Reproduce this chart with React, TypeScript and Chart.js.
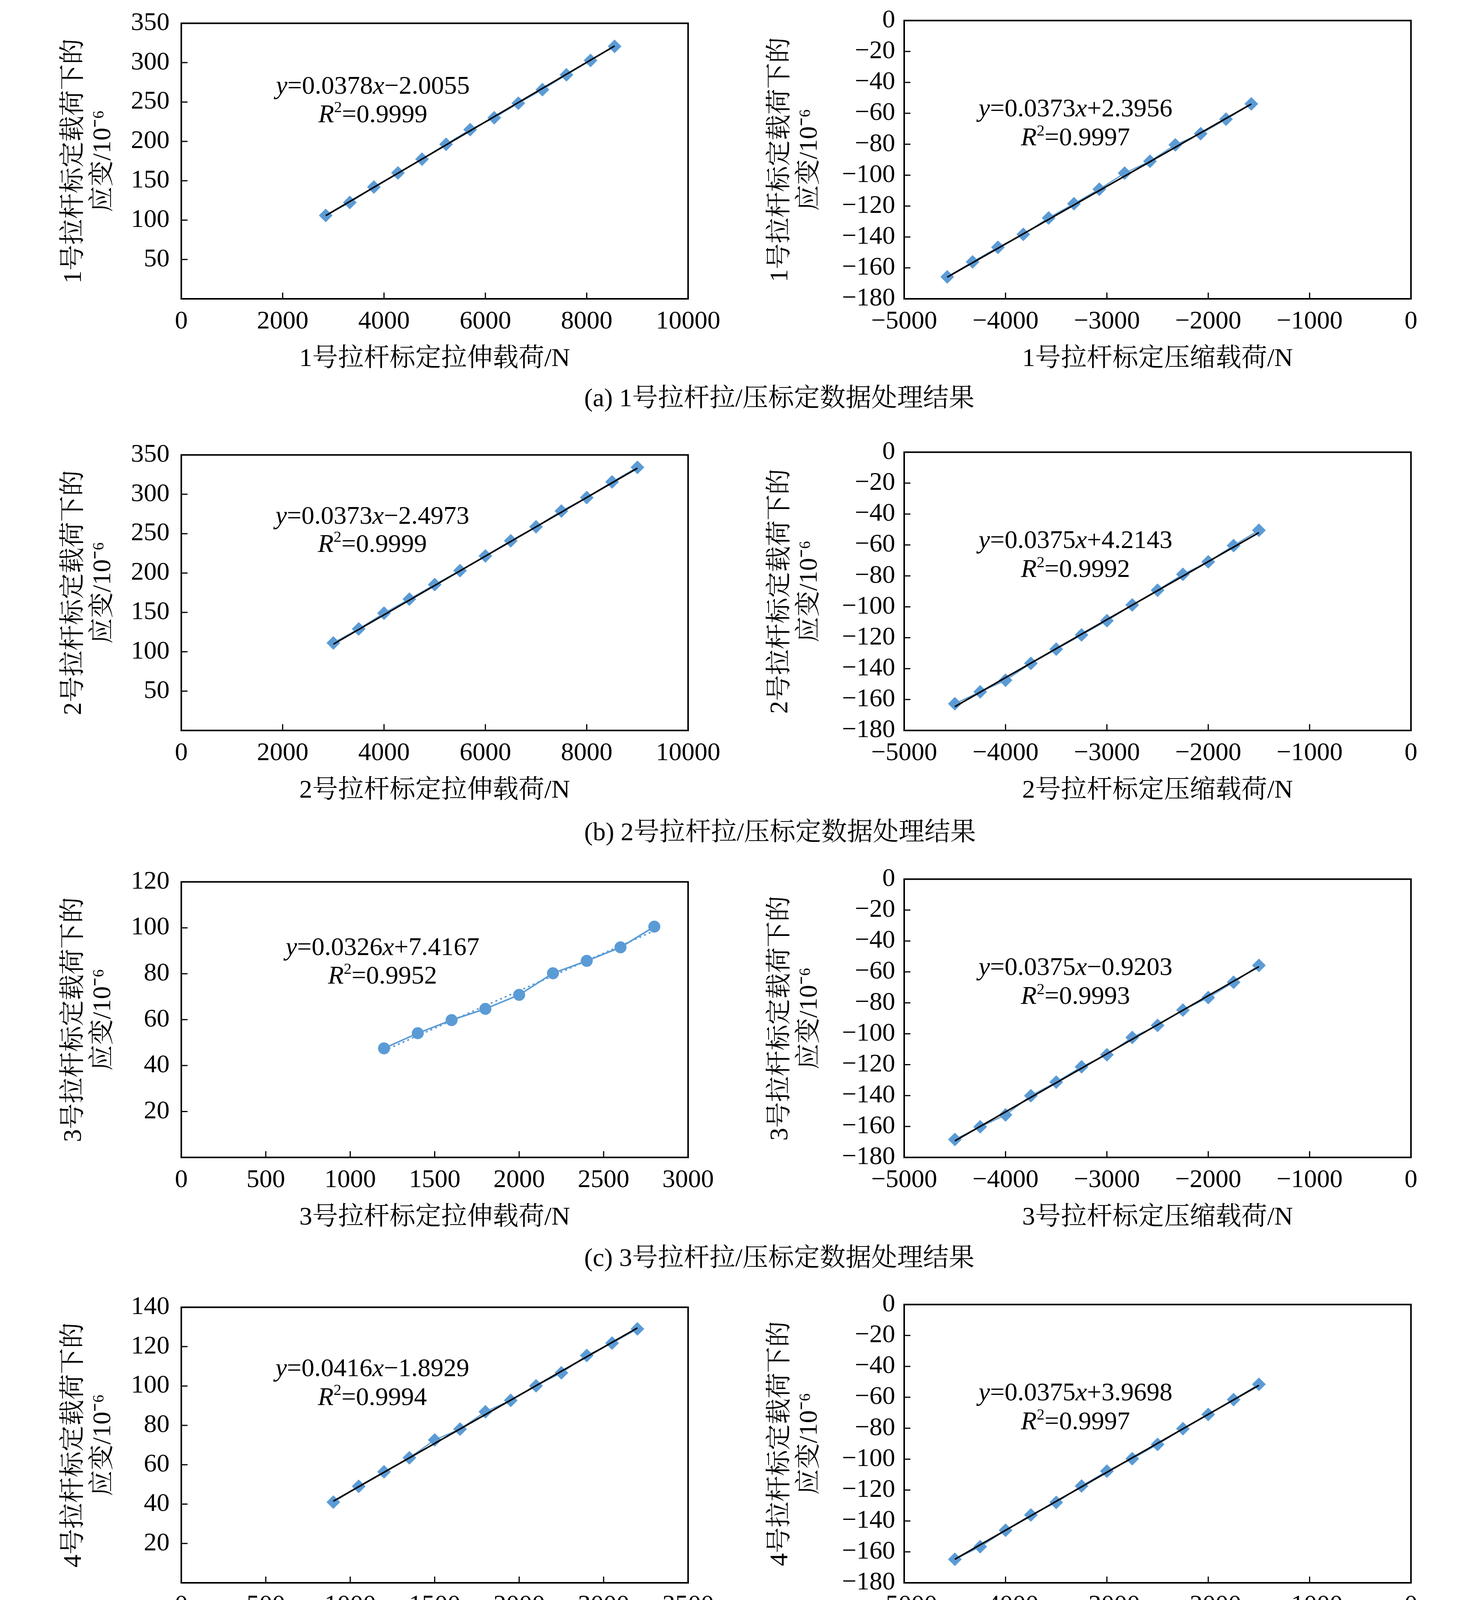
import { useEffect, useRef } from 'react'
import { Chart, registerables } from 'chart.js'

Chart.register(...registerables)

const SERIF = "'Liberation Serif', 'Times New Roman', 'Noto Serif CJK SC', 'Noto Sans CJK SC', serif"
const BLUE = '#5B9BD5'
const FONT = 66

// ---- tension (拉伸) data ----
const load1T = [2850, 3325, 3800, 4275, 4750, 5225, 5700, 6175, 6650, 7125, 7600, 8075, 8550]
const strain1T = [105.9, 122.4, 142, 159.9, 177.4, 196.3, 214.9, 230, 248.5, 265.7, 284.6, 302.8, 320.7]
const load2T = [3000, 3500, 4000, 4500, 5000, 5500, 6000, 6500, 7000, 7500, 8000, 8500, 9000]
const strain2T = [111.2, 129, 149, 166.8, 185.3, 203, 221.7, 240.9, 258.7, 278.7, 295.8, 315.7, 334.2]
const load3T = [1200, 1400, 1600, 1800, 2000, 2200, 2400, 2600, 2800]
const strain3T = [47.5, 54.1, 59.8, 64.7, 70.8, 80.2, 85.6, 91.5, 100.5]
const load4T = [900, 1050, 1200, 1350, 1500, 1650, 1800, 1950, 2100, 2250, 2400, 2550, 2700]
const strain4T = [41, 49, 56.4, 63.5, 72.6, 78.1, 86.9, 92.7, 100.1, 106.7, 115.5, 121.8, 129]
const load5T = [1050, 1200, 1350, 1500, 1650, 1800, 1950, 2100, 2250, 2400, 2550, 2700]
const strain5T = [37.8, 44.4, 52.9, 57.5, 67.1, 74.8, 81.1, 86.6, 94.8, 102.2, 111.8, 115.1]
const load6T = [1260, 1470, 1680, 1890, 2100, 2310, 2520, 2730, 2940, 3150, 3360, 3570, 3780]
const strain6T = [47.8, 56.3, 64.1, 73.6, 81.4, 89, 98.7, 104.1, 114.1, 121.7, 129.5, 138.6, 148.1]
const load7T = [900, 1050, 1200, 1350, 1500, 1650, 1800, 1950, 2100, 2250, 2400, 2550, 2700]
const strain7T = [37.95, 46.75, 53.6, 60, 67.9, 72.6, 79.5, 85.5, 93.5, 99.8, 107.5, 114.4, 120.2]

// ---- compression (压缩) data ----
const load1C = [-4575, -4325, -4075, -3825, -3575, -3325, -3075, -2825, -2575, -2325, -2075, -1825, -1575]
const strain1C = [-165.8, -156.1, -146.7, -138.3, -127.7, -118.5, -109.1, -98.7, -91, -80.4, -73.2, -63.8, -53.9]
const load2C = [-4500, -4250, -4000, -3750, -3500, -3250, -3000, -2750, -2500, -2250, -2000, -1750, -1500]
const strain2C = [-162.7, -155, -147.5, -136.6, -127.4, -118.2, -109, -98.8, -89.3, -79, -70.9, -60.4, -50.5]
const load3C = [-4500, -4250, -4000, -3750, -3500, -3250, -3000, -2750, -2500, -2250, -2000, -1750, -1500]
const strain3C = [-168.4, -160.2, -152.5, -140.1, -131.3, -121.4, -113.6, -102.4, -94.6, -84.7, -76.6, -66.7, -55.8]
const load4C = [-4500, -4250, -4000, -3750, -3500, -3250, -3000, -2750, -2500, -2250, -2000, -1750, -1500]
const strain4C = [-164.8, -156.6, -146, -136.1, -128, -117.4, -107.8, -99.7, -90.5, -80.3, -71.1, -61.5, -51.6]
const load5C = [-4050, -3825, -3600, -3375, -3150, -2925, -2700, -2475, -2250, -2025, -1800, -1575, -1350]
const strain5C = [-184.3, -176.9, -164.4, -156.2, -145.6, -134.6, -120.2, -111.2, -102.5, -96.3, -85.3, -72, -62.2]
const load6C = [-4050, -3825, -3600, -3375, -3150, -2925, -2700, -2475, -2250, -2025, -1800, -1575, -1350]
const strain6C = [-150.6, -141.8, -135.8, -125.4, -115.7, -107.8, -101.2, -91.5, -83.3, -73.9, -65.4, -57.2, -50.6]
const load7C = [-4680, -4420, -4160, -3900, -3640, -3380, -3120, -2860, -2600, -2340, -2080, -1820, -1560]
const strain7C = [-165.1, -154.9, -146, -136.5, -125.9, -117.7, -110, -98.3, -89.1, -81, -72.1, -62.2, -53.7]

// ---- trend line end points [x0, y0, x1, y1] ----
const trendT = [
  [2850, 105.7, 8550, 321.2],
  [3000, 109.6, 9000, 333.2],
  [1200, 46.5, 2800, 98.7],
  [900, 41.5, 2700, 129.5],
  [1050, 37.5, 2700, 116.4],
  [1260, 48, 3780, 146.7],
  [900, 38.8, 2700, 120.2],
]
const trendC = [
  [-4575, -166, -1575, -54],
  [-4500, -164.6, -1500, -52],
  [-4500, -169.3, -1500, -56.6],
  [-4500, -164.8, -1500, -52.3],
  [-4050, -185.4, -1350, -63.1],
  [-4050, -150.7, -1350, -49.5],
  [-4680, -164.4, -1560, -53.3],
]

// ---- trend equations: slope, intercept, R² ----
const slopeT = ['0.0378', '0.0373', '0.0326', '0.0416', '0.0478', '0.0392', '0.0386']
const interceptT = ['−2.0055', '−2.4973', '+7.4167', '−1.8929', '−12.654', '−1.4341', '−1.4093']
const r2T = ['0.9999', '0.9999', '0.9952', '0.9994', '0.9981', '0.9994', '0.9991']
const slopeC = ['0.0373', '0.0375', '0.0375', '0.0375', '0.0453', '0.0375', '0.0356']
const interceptC = ['+2.3956', '+4.2143', '−0.9203', '+3.9698', '−1.9011', '+1.1346', '+2.1896']
const r2C = ['0.9997', '0.9992', '0.9993', '0.9997', '0.9977', '0.9994', '0.9995']

// ---- tick labels ----
const xLabels10000 = ['0', '2000', '4000', '6000', '8000', '10000']
const xLabels3000 = ['0', '500', '1000', '1500', '2000', '2500', '3000']
const xLabels3500 = ['0', '500', '1000', '1500', '2000', '3000', '3500'] // printed this way in (d) and (g)
const xLabels4000 = ['0', '1000', '2000', '3000', '4000']
const xLabelsComp = ['−5000', '−4000', '−3000', '−2000', '−1000', '0']
const yLabels350 = ['', '50', '100', '150', '200', '250', '300', '350']
const yLabels120 = ['', '20', '40', '60', '80', '100', '120']
const yLabels140 = ['', '20', '40', '60', '80', '100', '120', '140']
const yLabels160 = ['', '20', '40', '60', '80', '100', '120', '140', '160']
const yLabelsNeg160 = ['−160', '−140', '−120', '−100', '−80', '−60', '−40', '−20', '0']
const yLabelsNeg180 = ['−180', '−160', '−140', '−120', '−100', '−80', '−60', '−40', '−20', '0']
const yLabelsNeg200 = ['−200', '−180', '−160', '−140', '−120', '−100', '−80', '−60', '−40', '−20', '0']

const letters = ['a', 'b', 'c', 'd', 'e', 'f', 'g']

// layout (page pixels)
const plotTops = [50, 1155, 2248, 3337, 4437, 5527, 6628]
const captionMids = [1018, 2129, 3219, 4313, 5414, 6539, 7608]
const PLOT_H = 715
const PAD_TOP = 60
const X_AXIS_H = 194
const COL_W = 1890

interface Axis {
  min: number
  max: number
  step: number
  labels: string[]
}

interface Panel {
  xs: number[]
  ys: number[]
  trend: number[]
  x: Axis
  y: Axis
  xTitle: string
  yTitle: string[]
  slope: string
  intercept: string
  r2: string
  eqPos: [number, number, number] // centre x, line1 y, line2 y as fractions of the plot area
  circles?: boolean
}

const tensionX: Axis[] = [
  { min: 0, max: 10000, step: 2000, labels: xLabels10000 },
  { min: 0, max: 10000, step: 2000, labels: xLabels10000 },
  { min: 0, max: 3000, step: 500, labels: xLabels3000 },
  { min: 0, max: 3000, step: 500, labels: xLabels3500 },
  { min: 0, max: 3000, step: 500, labels: xLabels3000 },
  { min: 0, max: 4000, step: 1000, labels: xLabels4000 },
  { min: 0, max: 3000, step: 500, labels: xLabels3500 },
]
const tensionY: Axis[] = [
  { min: 0, max: 350, step: 50, labels: yLabels350 },
  { min: 0, max: 350, step: 50, labels: yLabels350 },
  { min: 0, max: 120, step: 20, labels: yLabels120 },
  { min: 0, max: 140, step: 20, labels: yLabels140 },
  { min: 0, max: 140, step: 20, labels: yLabels140 },
  { min: 0, max: 160, step: 20, labels: yLabels160 },
  { min: 0, max: 140, step: 20, labels: yLabels140 },
]
const compY: Axis[] = [
  { min: -180, max: 0, step: 20, labels: yLabelsNeg180 },
  { min: -180, max: 0, step: 20, labels: yLabelsNeg180 },
  { min: -180, max: 0, step: 20, labels: yLabelsNeg180 },
  { min: -180, max: 0, step: 20, labels: yLabelsNeg180 },
  { min: -200, max: 0, step: 20, labels: yLabelsNeg200 },
  { min: -160, max: 0, step: 20, labels: yLabelsNeg160 },
  { min: -180, max: 0, step: 20, labels: yLabelsNeg180 },
]
const compX: Axis = { min: -5000, max: 0, step: 1000, labels: xLabelsComp }

const eqPosT: [number, number, number][] = [
  [0.378, 0.231, 0.334],
  [0.377, 0.225, 0.327],
  [0.397, 0.241, 0.345],
  [0.377, 0.226, 0.33],
  [0.437, 0.292, 0.397],
  [0.397, 0.257, 0.361],
  [0.376, 0.226, 0.33],
]
const eqPosC: [number, number, number] = [0.338, 0.32, 0.424]

const tensionXs = [load1T, load2T, load3T, load4T, load5T, load6T, load7T]
const tensionYs = [strain1T, strain2T, strain3T, strain4T, strain5T, strain6T, strain7T]
const compXs = [load1C, load2C, load3C, load4C, load5C, load6C, load7C]
const compYs = [strain1C, strain2C, strain3C, strain4C, strain5C, strain6C, strain7C]

const yTitle = (n: number) => [`${n}号拉杆标定载荷下的`, '应变/10⁻⁶']

const leftPanels: Panel[] = letters.map((_, i) => ({
  xs: tensionXs[i],
  ys: tensionYs[i],
  trend: trendT[i],
  x: tensionX[i],
  y: tensionY[i],
  xTitle: `${i + 1}号拉杆标定拉伸载荷/N`,
  yTitle: yTitle(i + 1),
  slope: slopeT[i],
  intercept: interceptT[i],
  r2: r2T[i],
  eqPos: eqPosT[i],
  circles: i === 2,
}))

const rightPanels: Panel[] = letters.map((_, i) => ({
  xs: compXs[i],
  ys: compYs[i],
  trend: trendC[i],
  x: compX,
  y: compY[i],
  xTitle: `${i + 1}号拉杆标定压缩载荷/N`,
  yTitle: yTitle(i + 1),
  slope: slopeC[i],
  intercept: interceptC[i],
  r2: r2C[i],
  eqPos: eqPosC,
}))

interface Seg {
  t: string
  italic?: boolean
  sup?: boolean
}

function drawRich(ctx: CanvasRenderingContext2D, segs: Seg[], cx: number, cy: number) {
  const fontOf = (s: Seg) => `${s.italic ? 'italic ' : ''}${s.sup ? Math.round(FONT * 0.6) : FONT}px ${SERIF}`
  const widths = segs.map(s => {
    ctx.font = fontOf(s)
    return ctx.measureText(s.t).width
  })
  let x = cx - widths.reduce((a, b) => a + b, 0) / 2
  segs.forEach((s, i) => {
    ctx.font = fontOf(s)
    ctx.fillText(s.t, x, s.sup ? cy - FONT * 0.28 : cy)
    x += widths[i]
  })
}

// frame, inward tick marks and the trend equation
function makeOverlay(p: Panel) {
  return {
    id: 'overlay',
    afterDraw(chart: Chart) {
      const { ctx, chartArea: a } = chart
      const xs = chart.scales.x
      const ys = chart.scales.y
      ctx.save()
      ctx.strokeStyle = '#000'
      ctx.lineWidth = 4
      ctx.strokeRect(a.left, a.top, a.right - a.left, a.bottom - a.top)
      ctx.lineWidth = 3
      ctx.beginPath()
      xs.ticks.forEach(t => {
        const px = xs.getPixelForValue(t.value)
        ctx.moveTo(px, a.bottom)
        ctx.lineTo(px, a.bottom - 16)
      })
      ys.ticks.forEach(t => {
        const py = ys.getPixelForValue(t.value)
        ctx.moveTo(a.left, py)
        ctx.lineTo(a.left + 16, py)
      })
      ctx.stroke()

      ctx.fillStyle = '#000'
      ctx.textBaseline = 'middle'
      ctx.textAlign = 'left'
      const w = a.right - a.left
      const h = a.bottom - a.top
      const [fx, f1, f2] = p.eqPos
      drawRich(
        ctx,
        [{ t: 'y', italic: true }, { t: `=${p.slope}` }, { t: 'x', italic: true }, { t: p.intercept }],
        a.left + fx * w,
        a.top + f1 * h,
      )
      drawRich(ctx, [{ t: 'R', italic: true }, { t: '2', sup: true }, { t: `=${p.r2}` }], a.left + fx * w, a.top + f2 * h)
      ctx.restore()
    },
  }
}

function ScatterPanel({ panel, left, top, right }: { panel: Panel; left: boolean; top: number; right: number }) {
  const canvasRef = useRef<HTMLCanvasElement>(null)
  const chartRef = useRef<Chart | null>(null)

  useEffect(() => {
    if (!canvasRef.current) return
    if (chartRef.current) chartRef.current.destroy()

    const yWidth = left ? 464 : 424
    const tickPad = left ? 30 : 23
    const titlePad = left ? 152.5 : 70.5
    const tickFont = { family: SERIF, size: FONT }
    const [tx0, ty0, tx1, ty1] = panel.trend

    chartRef.current = new Chart(canvasRef.current, {
      type: 'scatter',
      data: {
        datasets: [
          {
            data: [
              { x: tx0, y: ty0 },
              { x: tx1, y: ty1 },
            ],
            showLine: true,
            borderColor: panel.circles ? BLUE : '#000',
            borderWidth: 4,
            borderDash: panel.circles ? [5, 8] : [],
            pointRadius: 0,
          },
          {
            data: panel.xs.map((x, i) => ({ x, y: panel.ys[i] })),
            showLine: true,
            borderColor: BLUE,
            borderWidth: panel.circles ? 4 : 3,
            pointStyle: panel.circles ? 'circle' : 'rectRot',
            pointRadius: panel.circles ? 15 : 17,
            pointBackgroundColor: BLUE,
            pointBorderColor: BLUE,
            pointBorderWidth: 1,
          },
        ],
      },
      options: {
        animation: false,
        responsive: false,
        devicePixelRatio: 1,
        layout: { padding: { top: PAD_TOP, right, left: 0, bottom: 0 } },
        plugins: { legend: { display: false }, tooltip: { enabled: false } },
        scales: {
          x: {
            type: 'linear',
            min: panel.x.min,
            max: panel.x.max,
            grid: { display: false, drawTicks: false },
            border: { display: false },
            ticks: {
              stepSize: panel.x.step,
              autoSkip: false,
              maxRotation: 0,
              padding: 19,
              color: '#000',
              font: tickFont,
              callback: (_v, i) => panel.x.labels[i] ?? '',
            },
            title: { display: true, text: panel.xTitle, color: '#000', font: tickFont, padding: { top: 0, bottom: 0 } },
            afterFit: s => {
              s.height = X_AXIS_H
            },
          },
          y: {
            type: 'linear',
            min: panel.y.min,
            max: panel.y.max,
            grid: { display: false, drawTicks: false },
            border: { display: false },
            ticks: {
              stepSize: panel.y.step,
              autoSkip: false,
              padding: tickPad,
              color: '#000',
              font: tickFont,
              callback: (_v, i) => panel.y.labels[i] ?? '',
            },
            title: {
              display: true,
              text: panel.yTitle,
              color: '#000',
              font: { family: SERIF, size: FONT, lineHeight: 75 / FONT },
              padding: { top: titlePad, bottom: 0 },
            },
            afterFit: s => {
              s.width = yWidth
            },
          },
        },
      },
      plugins: [makeOverlay(panel)],
    })

    return () => {
      if (chartRef.current) {
        chartRef.current.destroy()
        chartRef.current = null
      }
    }
  }, [panel, left, right])

  const height = PAD_TOP + PLOT_H + X_AXIS_H
  return (
    <div style={{ position: 'absolute', left: left ? 0 : COL_W, top: top - PAD_TOP, width: COL_W, height }}>
      <canvas ref={canvasRef} width={COL_W} height={height} style={{ width: COL_W, height }} />
    </div>
  )
}

export default function App() {
  useEffect(() => {
    document.body.style.margin = '0'
    document.body.style.background = '#fff'
  }, [])

  return (
    <div style={{ position: 'relative', width: 3780, height: 7664, background: '#fff', overflow: 'hidden' }}>
      {letters.map((l, i) => (
        <div key={l}>
          <ScatterPanel panel={leftPanels[i]} left top={plotTops[i]} right={COL_W - 1761} />
          <ScatterPanel panel={rightPanels[i]} left={false} top={plotTops[i]} right={COL_W - (3611 - COL_W)} />
          <div
            style={{
              position: 'absolute',
              left: 1495,
              top: captionMids[i] - 40,
              height: 80,
              lineHeight: '80px',
              fontSize: FONT,
              fontFamily: SERIF,
              whiteSpace: 'nowrap',
              color: '#000',
            }}
          >
            ({l}) {i + 1}号拉杆拉/压标定数据处理结果
          </div>
        </div>
      ))}
    </div>
  )
}
